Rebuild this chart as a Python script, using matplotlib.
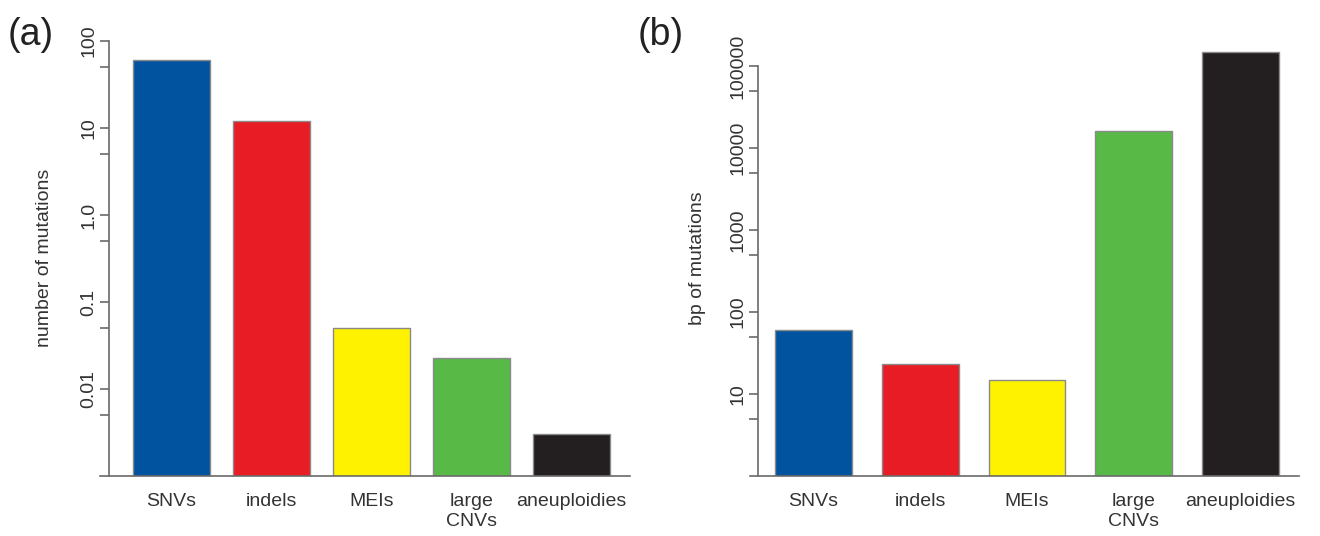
import numpy as np
import matplotlib.pyplot as plt
from matplotlib.ticker import FixedLocator, FixedFormatter, NullFormatter

plt.rcParams['font.family'] = ['Liberation Sans', 'DejaVu Sans']

categories = ['SNVs', 'indels', 'MEIs', 'large\nCNVs', 'aneuploidies']
colors = ['#02539F', '#E81C24', '#FFF200', '#58B947', '#231F20']

# (a) number of mutations
counts = [60, 12, 0.05, 0.023, 0.003]
ticks_a = [0.01, 0.1, 1.0, 10, 100]
ticklabels_a = ['0.01', '0.1', '1.0', '10', '100']

# (b) bp of mutations
bp = [60, 23, 15, 16000, 150000]
ticks_b = [10, 100, 1000, 10000, 100000]
ticklabels_b = ['10', '100', '1000', '10000', '100000']

W, H = 1320, 536
fig = plt.figure(figsize=(W / 100, H / 100), dpi=100)
gray = '#6a6a6a'
txt = '#333333'


def px_axes(x0, x1, ytop, ybot):
    return fig.add_axes([x0 / W, 1 - ybot / H, (x1 - x0) / W, (ybot - ytop) / H])


def style(ax, ticks, labels, minors, spine_x, spine_top, bottom_y):
    ax.set_yscale('log')
    ax.yaxis.set_major_locator(FixedLocator(ticks))
    ax.yaxis.set_major_formatter(FixedFormatter(labels))
    ax.yaxis.set_minor_locator(FixedLocator(minors))
    ax.yaxis.set_minor_formatter(NullFormatter())
    for s in ['top', 'right']:
        ax.spines[s].set_visible(False)
    ax.spines['left'].set_position(('data', spine_x))
    ax.spines['left'].set_bounds(bottom_y, spine_top)
    for s in ['left', 'bottom']:
        ax.spines[s].set_color(gray)
        ax.spines[s].set_linewidth(1.2)
    ax.tick_params(axis='y', which='both', length=6.5, width=1.2, color=gray,
                   labelsize=14, labelrotation=90, pad=2, labelcolor=txt)
    ax.tick_params(axis='x', length=0, labelsize=14, pad=12, labelcolor=txt)
    for lab in ax.get_yticklabels():
        lab.set_va('center')
    for lab in ax.get_xticklabels():
        lab.set_linespacing(1.25)
    ax.patch.set_visible(False)


# panel a
ax1 = px_axes(100, 630, 41, 476)
x = np.arange(len(categories))
ax1.bar(x, counts, width=0.77, color=colors, edgecolor='#8a8a8a', linewidth=1)
ax1.set_xlim(-0.715, 4.585)
ax1.set_ylim(0.001, 100)
ax1.set_xticks(x)
ax1.set_xticklabels(categories, va='top')
style(ax1, ticks_a, ticklabels_a, [0.005, 0.05, 0.5, 5, 50], -0.625, 100, 0.001)
fig.text(45 / W, 1 - 258 / H, 'number of mutations', fontsize=14, color=txt,
         rotation=90, ha='center', va='center')
fig.text(8 / W, 1 - 35 / H, '(a)', fontsize=27, va='center', ha='left', color='#222222')

# panel b
ax2 = px_axes(750, 1299, 39.6, 476)
ax2.bar(x, bp, width=0.72, color=colors, edgecolor='#8a8a8a', linewidth=1)
ax2.set_xlim(-0.593, 4.547)
ax2.set_ylim(1, 2.1e5)
ax2.set_xticks(x)
ax2.set_xticklabels(categories, va='top')
style(ax2, ticks_b, ticklabels_b, [5, 50, 500, 5000, 50000], -0.519, 1e5, 1)
fig.text(697 / W, 1 - 258 / H, 'bp of mutations', fontsize=14, color=txt,
         rotation=90, ha='center', va='center')
fig.text(638 / W, 1 - 35 / H, '(b)', fontsize=27, va='center', ha='left', color='#222222')

fig.savefig('out.png', dpi=100)
